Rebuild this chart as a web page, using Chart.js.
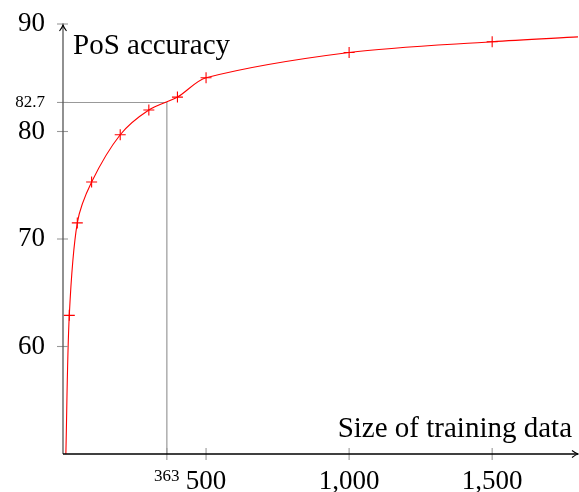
<!DOCTYPE html>
<html><head><meta charset="utf-8">
<script src="https://cdn.jsdelivr.net/npm/chart.js@4.4.0/dist/chart.umd.min.js"></script>
<style>html,body{margin:0;padding:0;background:#fff}#wrap{width:579px;height:492px}</style>
</head><body><div id="wrap"><canvas id="c" width="579" height="492"></canvas></div>
<script>
// ---- data ----
const trainSize = [10, 22, 50, 100, 200, 300, 400, 500, 1000, 1500, 1800];
const accuracy  = [50, 62.9, 71.5, 75.3, 79.7, 82.0, 83.2, 85.0, 87.35, 88.35, 88.8];
const markerShown = [false, true, true, true, true, true, true, true, true, true, false];
const xTickValues = [363, 500, 1000, 1500];
const yTickValues = [60, 70, 80, 82.7, 90];
const smallTicksX = [363];
const smallTicksY = [82.7];
const refX = 363, refY = 82.7;
const xTitle = 'Size of training data';
const yTitle = 'PoS accuracy';

const SERIF = '"Liberation Serif", "Times New Roman", serif';

const mainPoints = trainSize.map((x, i) => ({x: x, y: accuracy[i]}));
const refPoints = [{x: 0, y: refY}, {x: refX, y: refY}, {x: refX, y: 50}];

const decor = {
  id: 'decor',
  afterDraw(chart) {
    const ctx = chart.ctx, xs = chart.scales.x, ys = chart.scales.y;
    const a = chart.chartArea;
    ctx.save();
    // tick marks
    ctx.strokeStyle = '#999';
    ctx.lineWidth = 1.1;
    xTickValues.forEach(v => {
      const p = xs.getPixelForValue(v);
      ctx.beginPath(); ctx.moveTo(p, a.bottom - 6); ctx.lineTo(p, a.bottom + 6); ctx.stroke();
    });
    yTickValues.forEach(v => {
      const p = ys.getPixelForValue(v);
      ctx.beginPath(); ctx.moveTo(a.left - 6, p); ctx.lineTo(a.left + 5, p); ctx.stroke();
    });
    // y axis with arrow
    ctx.strokeStyle = '#555';
    ctx.lineWidth = 1.3;
    const y0 = ys.getPixelForValue(90) + 1;
    ctx.beginPath(); ctx.moveTo(a.left, a.bottom); ctx.lineTo(a.left, y0); ctx.stroke();
    ctx.strokeStyle = '#000';
    ctx.lineWidth = 1.1;
    ctx.beginPath(); ctx.moveTo(a.left - 3.5, y0 + 6); ctx.quadraticCurveTo(a.left - 0.5, y0 + 2, a.left, y0);
    ctx.quadraticCurveTo(a.left + 0.5, y0 + 2, a.left + 3.5, y0 + 6); ctx.stroke();
    // x axis with arrow
    ctx.strokeStyle = '#000';
    ctx.lineWidth = 1.4;
    const x1 = chart.width - 1;
    ctx.beginPath(); ctx.moveTo(a.left, a.bottom); ctx.lineTo(x1, a.bottom); ctx.stroke();
    ctx.lineWidth = 1.1;
    ctx.beginPath(); ctx.moveTo(x1 - 6, a.bottom - 3.5); ctx.quadraticCurveTo(x1 - 2, a.bottom - 0.5, x1, a.bottom);
    ctx.quadraticCurveTo(x1 - 2, a.bottom + 0.5, x1 - 6, a.bottom + 3.5); ctx.stroke();
    // axis titles
    ctx.fillStyle = '#000';
    ctx.font = '29px ' + SERIF;
    ctx.textBaseline = 'alphabetic';
    ctx.textAlign = 'left';
    ctx.fillText(yTitle, a.left + 10, 54);
    ctx.textAlign = 'right';
    ctx.fillText(xTitle, 572, 437);
    ctx.restore();
  }
};

new Chart(document.getElementById('c'), {
  type: 'line',
  data: {
    datasets: [
      {
        data: mainPoints,
        borderColor: '#ff0000',
        borderWidth: 1.1,
        tension: 0.3,
        pointStyle: 'cross',
        pointRadius: ctx => markerShown[ctx.dataIndex] ? 5.5 : 0,
        pointBorderColor: '#ff0000',
        pointBorderWidth: 1.1,
        fill: false
      },
      {
        data: refPoints,
        borderColor: '#999',
        borderWidth: 1.2,
        tension: 0,
        pointRadius: 0,
        fill: false
      }
    ]
  },
  options: {
    responsive: false,
    animation: false,
    devicePixelRatio: 1,
    layout: { padding: { top: 24, right: 1, left: 0, bottom: 0 } },
    plugins: { legend: { display: false }, tooltip: { enabled: false } },
    scales: {
      x: {
        type: 'linear', min: 0, max: 1800,
        border: { display: false },
        grid: { display: false, drawTicks: false },
        afterBuildTicks: s => { s.ticks = xTickValues.map(v => ({value: v})); },
        afterFit: s => { s.height = 38; s.paddingLeft = 0; s.paddingRight = 0; },
        ticks: {
          autoSkip: false, maxRotation: 0, padding: 12, color: '#000',
          font: c => ({ family: SERIF, size: (c.tick && smallTicksX.includes(c.tick.value)) ? 17 : 27 }),
          callback: v => smallTicksX.includes(v) ? String(v) : v.toLocaleString('en-US')
        }
      },
      y: {
        type: 'linear', min: 50, max: 90,
        border: { display: false },
        grid: { display: false, drawTicks: false },
        afterBuildTicks: s => { s.ticks = yTickValues.map(v => ({value: v})); },
        afterFit: s => { s.width = 63; s.paddingTop = 0; s.paddingBottom = 0; },
        ticks: {
          autoSkip: false, padding: 18, color: '#000',
          font: c => ({ family: SERIF, size: (c.tick && smallTicksY.includes(c.tick.value)) ? 17 : 27 }),
          callback: v => String(v)
        }
      }
    }
  },
  plugins: [decor]
});
</script>
</body></html>
